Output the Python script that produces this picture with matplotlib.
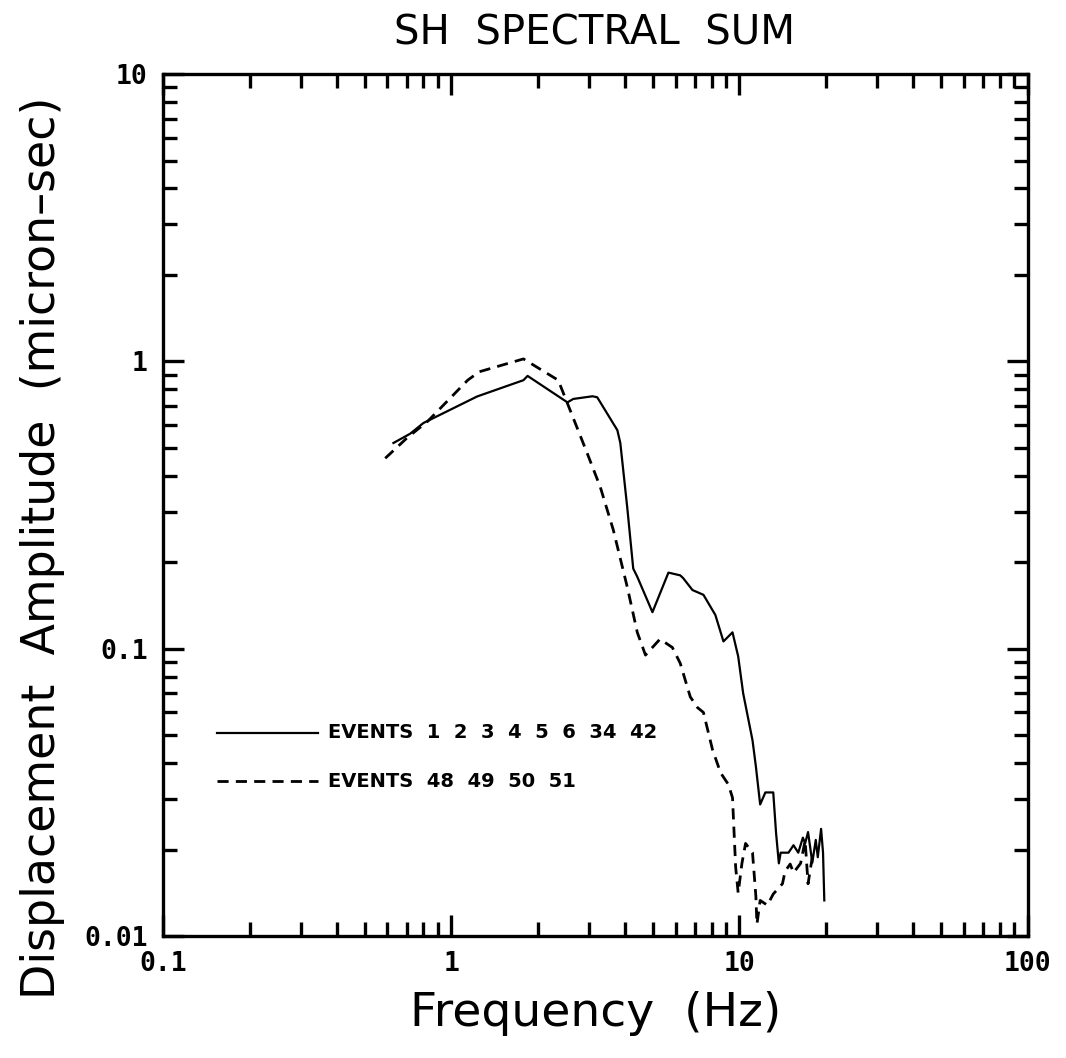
import matplotlib
matplotlib.use("Agg")
import matplotlib.pyplot as plt
from matplotlib.ticker import LogLocator, FixedLocator, NullFormatter

# events 1 2 3 4 5 6 34 42 (solid)
freq_a = [0.63, 0.72, 0.80, 1.23, 1.78, 1.84, 2.53, 2.65, 3.09, 3.21, 3.77, 3.86,
          4.08, 4.28, 4.42, 4.99, 5.67, 6.23, 6.38, 6.87, 7.50, 8.25, 8.80, 9.46,
          9.90, 10.3, 11.1, 11.4, 11.8, 12.3, 13.1, 13.4, 13.7, 13.9, 14.8, 15.4,
          16.0, 16.6, 16.9, 17.3, 17.9, 18.4, 18.7, 19.2, 19.5, 19.7]
amp_a = [0.52, 0.56, 0.61, 0.755, 0.86, 0.89, 0.72, 0.74, 0.756, 0.75, 0.576, 0.52,
         0.31, 0.19, 0.178, 0.134, 0.184, 0.18, 0.176, 0.16, 0.154, 0.131, 0.106, 0.114,
         0.094, 0.070, 0.048, 0.039, 0.0287, 0.0316, 0.0316, 0.0228, 0.0179, 0.0195, 0.0195, 0.0207,
         0.0195, 0.022, 0.021, 0.023, 0.018, 0.0216, 0.0188, 0.0236, 0.0195, 0.0133]

# events 48 49 50 51 (dashed)
freq_b = [0.59, 0.70, 0.83, 1.14, 1.25, 1.78, 2.35, 2.55, 2.96, 3.29, 3.65, 4.08,
          4.42, 4.72, 5.3, 5.85, 6.23, 6.75, 7.15, 7.5, 8.06, 8.6, 9.15, 9.46,
          9.7, 9.9, 10.2, 10.5, 11.1, 11.4, 11.5, 11.8, 12.5, 13.1, 14.1, 14.4,
          15.0, 15.4, 16.3, 16.9, 17.3, 18.0]
amp_b = [0.46, 0.54, 0.62, 0.86, 0.92, 1.02, 0.86, 0.70, 0.48, 0.365, 0.259, 0.164,
         0.114, 0.095, 0.108, 0.101, 0.089, 0.068, 0.0624, 0.06, 0.0446, 0.037, 0.0337, 0.0303,
         0.0174, 0.0141, 0.0179, 0.021, 0.0195, 0.0138, 0.011, 0.0133, 0.0128, 0.014, 0.0152, 0.0168,
         0.0178, 0.0166, 0.0179, 0.0215, 0.0152, 0.0195]

label_a = "EVENTS  1  2  3  4  5  6  34  42"
label_b = "EVENTS  48  49  50  51"

x_ticks = [0.1, 1, 10, 100]
x_ticklabels = ["0.1", "1", "10", "100"]
y_ticks = [0.01, 0.1, 1, 10]
y_ticklabels = ["0.01", "0.1", "1", "10"]

plt.rcParams.update({
    "font.family": "DejaVu Sans",
    "axes.linewidth": 2.4,
})

fig = plt.figure(figsize=(10.66, 10.58), dpi=100)
ax = fig.add_axes([0.153, 0.1153, 0.811, 0.8147])

solid_style = dict(color="black", lw=1.6, linestyle="-")
dash_style = dict(color="black", lw=2.0, linestyle=(0, (4, 2.6)))

ax.plot(freq_a, amp_a, **solid_style)
ax.plot(freq_b, amp_b, **dash_style)

ax.set_xscale("log")
ax.set_yscale("log")
ax.set_xlim(0.1, 100)
ax.set_ylim(0.01, 10)

ax.xaxis.set_major_locator(FixedLocator(x_ticks))
ax.yaxis.set_major_locator(FixedLocator(y_ticks))
ax.set_xticklabels(x_ticklabels)
ax.set_yticklabels(y_ticklabels)
ax.xaxis.set_minor_locator(LogLocator(base=10, subs=range(2, 10)))
ax.yaxis.set_minor_locator(LogLocator(base=10, subs=range(2, 10)))
ax.xaxis.set_minor_formatter(NullFormatter())
ax.yaxis.set_minor_formatter(NullFormatter())

ax.tick_params(which="both", direction="in", top=True, right=True, width=2.4,
               labelsize=19, pad=11)
ax.tick_params(which="major", length=15)
ax.tick_params(which="minor", length=10)
for lab in ax.get_xticklabels() + ax.get_yticklabels():
    lab.set_family("DejaVu Sans Mono")
    lab.set_fontweight("bold")

# legend drawn as lines and text, as in the original
ax.plot([0.154, 0.345], [0.051, 0.051], **solid_style)
ax.plot([0.154, 0.345], [0.0345, 0.0345], **dash_style)
ax.text(0.372, 0.051, label_a, fontsize=14, fontweight="bold", va="center", ha="left")
ax.text(0.372, 0.0345, label_b, fontsize=14, fontweight="bold", va="center", ha="left")

fig.text(0.558, 0.968, "SH  SPECTRAL  SUM", fontsize=29, ha="center", va="center")
ax.set_xlabel("Frequency  (Hz)", fontsize=34, labelpad=10)
ax.set_ylabel("Displacement  Amplitude  (micron\u2013sec)", fontsize=33)
ax.yaxis.set_label_coords(-0.113, 0.45)

fig.savefig("out.png", dpi=100)
